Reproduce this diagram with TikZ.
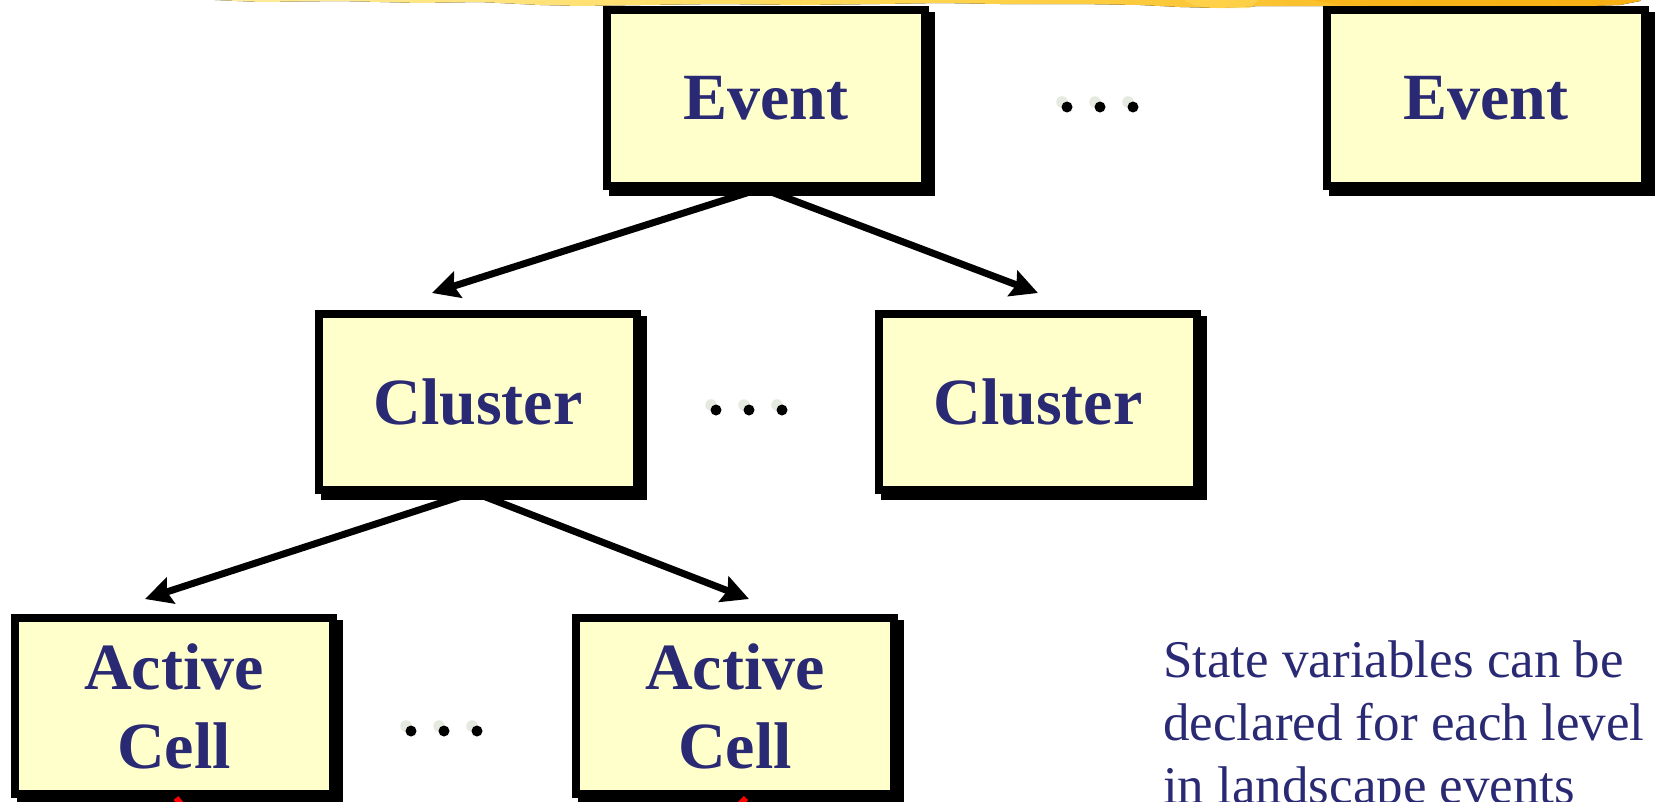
\documentclass[tikz,border=0pt]{standalone}
\usepackage{fontspec}
\setmainfont{Liberation Serif}
\usetikzlibrary{arrows.meta}

\definecolor{boxfill}{RGB}{255,255,204}
\definecolor{navy}{RGB}{42,42,116}
\definecolor{dotgray}{RGB}{228,234,224}
\definecolor{brushA}{RGB}{255,238,160}
\definecolor{brushB}{RGB}{255,214,80}
\definecolor{brushC}{RGB}{247,176,18}

\pgfdeclarelayer{back}
\pgfsetlayers{back,main}

\tikzset{
  levelbox/.style={draw=black, line width=8pt, fill=boxfill,
    minimum width=318pt, minimum height=176pt, inner sep=0pt,
    text=navy, align=center, font=\fontsize{66}{79}\selectfont\bfseries,
    preaction={draw=black, fill=black, line width=8pt,
      transform canvas={xshift=6pt,yshift=-6pt}}},
  link/.style={draw=black, line width=7pt,
    -{Stealth[length=27pt,width=27pt,inset=4pt]}},
  redlink/.style={draw=red, line width=6pt},
  note/.style={text=navy, font=\fontsize{53}{63}\selectfont,
    anchor=base west, inner sep=0pt},
  lightdot/.style={fill=dotgray},
  darkdot/.style={fill=black},
}

\begin{document}
\begin{tikzpicture}[x=1pt, y=-1pt]
  \useasboundingbox (0,0) rectangle (1658,801);
  \clip (0,0) rectangle (1658,801);

  % brushed title rule along the top edge
  \begin{pgfonlayer}{back}
  \fill[left color=brushA, right color=brushC, middle color=brushB]
    (170,-2) -- (1642,-2) -- (1640,1) -- (1620,5) -- (1560,7) -- (1500,8)
    -- (1440,7) -- (1380,8) -- (1320,6) -- (1260,6) -- (1220,8) -- (1180,7)
    -- (1140,5) -- (1080,4) -- (1000,4) -- (940,3) -- (880,4) -- (800,5)
    -- (720,4) -- (640,5) -- (580,6) -- (540,5) -- (480,2) -- (420,3)
    -- (340,1) -- (260,2) -- cycle;
  \fill[brushC, opacity=0.6]
    (1300,-2) -- (1620,-2) -- (1600,5) -- (1520,6) -- (1420,7) -- (1340,5) -- cycle;
  \fill[brushB, opacity=0.7]
    (1180,-2) -- (1260,-2) -- (1250,8) -- (1215,8) -- (1195,6) -- cycle;
  \end{pgfonlayer}

  % boxes
  \node[levelbox] (ev1) at (766,98)  {Event};
  \node[levelbox] (ev2) at (1486,98) {Event};
  \node[levelbox] (cl1) at (478,402) {Cluster};
  \node[levelbox] (cl2) at (1038,402) {Cluster};
  \node[levelbox] (ce1) at (174,706) {Active\\Cell};
  \node[levelbox] (ce2) at (735,706) {Active\\Cell};

  % arrow targets just above the child boxes
  \coordinate (t1) at ([xshift=-46pt,yshift=17pt]cl1.north);
  \coordinate (t2) at ([yshift=17pt]cl2.north);
  \coordinate (t3) at ([xshift=-29pt,yshift=15pt]ce1.north);
  \coordinate (t4) at ([xshift=14pt,yshift=15pt]ce2.north);
  \coordinate (below) at (435,1110);

  % connectors, kept behind the boxes so they start under the shadows
  \begin{pgfonlayer}{back}
  \draw[link] ([xshift=-10pt]ev1.south) -- (t1);
  \draw[link] (ev1.south) -- (t2);
  \draw[link] ([xshift=-10pt]cl1.south) -- (t3);
  \draw[link] (cl1.south) -- (t4);
  \end{pgfonlayer}

  % red links leaving the cells downwards
  \draw[redlink] ([xshift=2pt]ce1.south) -- (below);
  \draw[redlink] ([xshift=11pt]ce2.south) -- (below);

  % ellipsis marks
  \foreach \x in {1067,1100,1133} {
    \fill[lightdot] (\x-5,102) circle (5.8);
    \fill[darkdot] (\x,107) circle (5.5);
  }
  \foreach \x in {716,749,782} {
    \fill[lightdot] (\x-5,405) circle (5.8);
    \fill[darkdot] (\x,410) circle (5.5);
  }
  \foreach \x in {411,444,477} {
    \fill[lightdot] (\x-5,726) circle (5.8);
    \fill[darkdot] (\x,731) circle (5.5);
  }

  % side note
  \node[note] (n1) at (1163,677) {State variables can be};
  \node[note] (n2) at (1163,740) {declared for each level};
  \node[note] (n3) at (1163,803) {in landscape events};
\end{tikzpicture}
\end{document}
